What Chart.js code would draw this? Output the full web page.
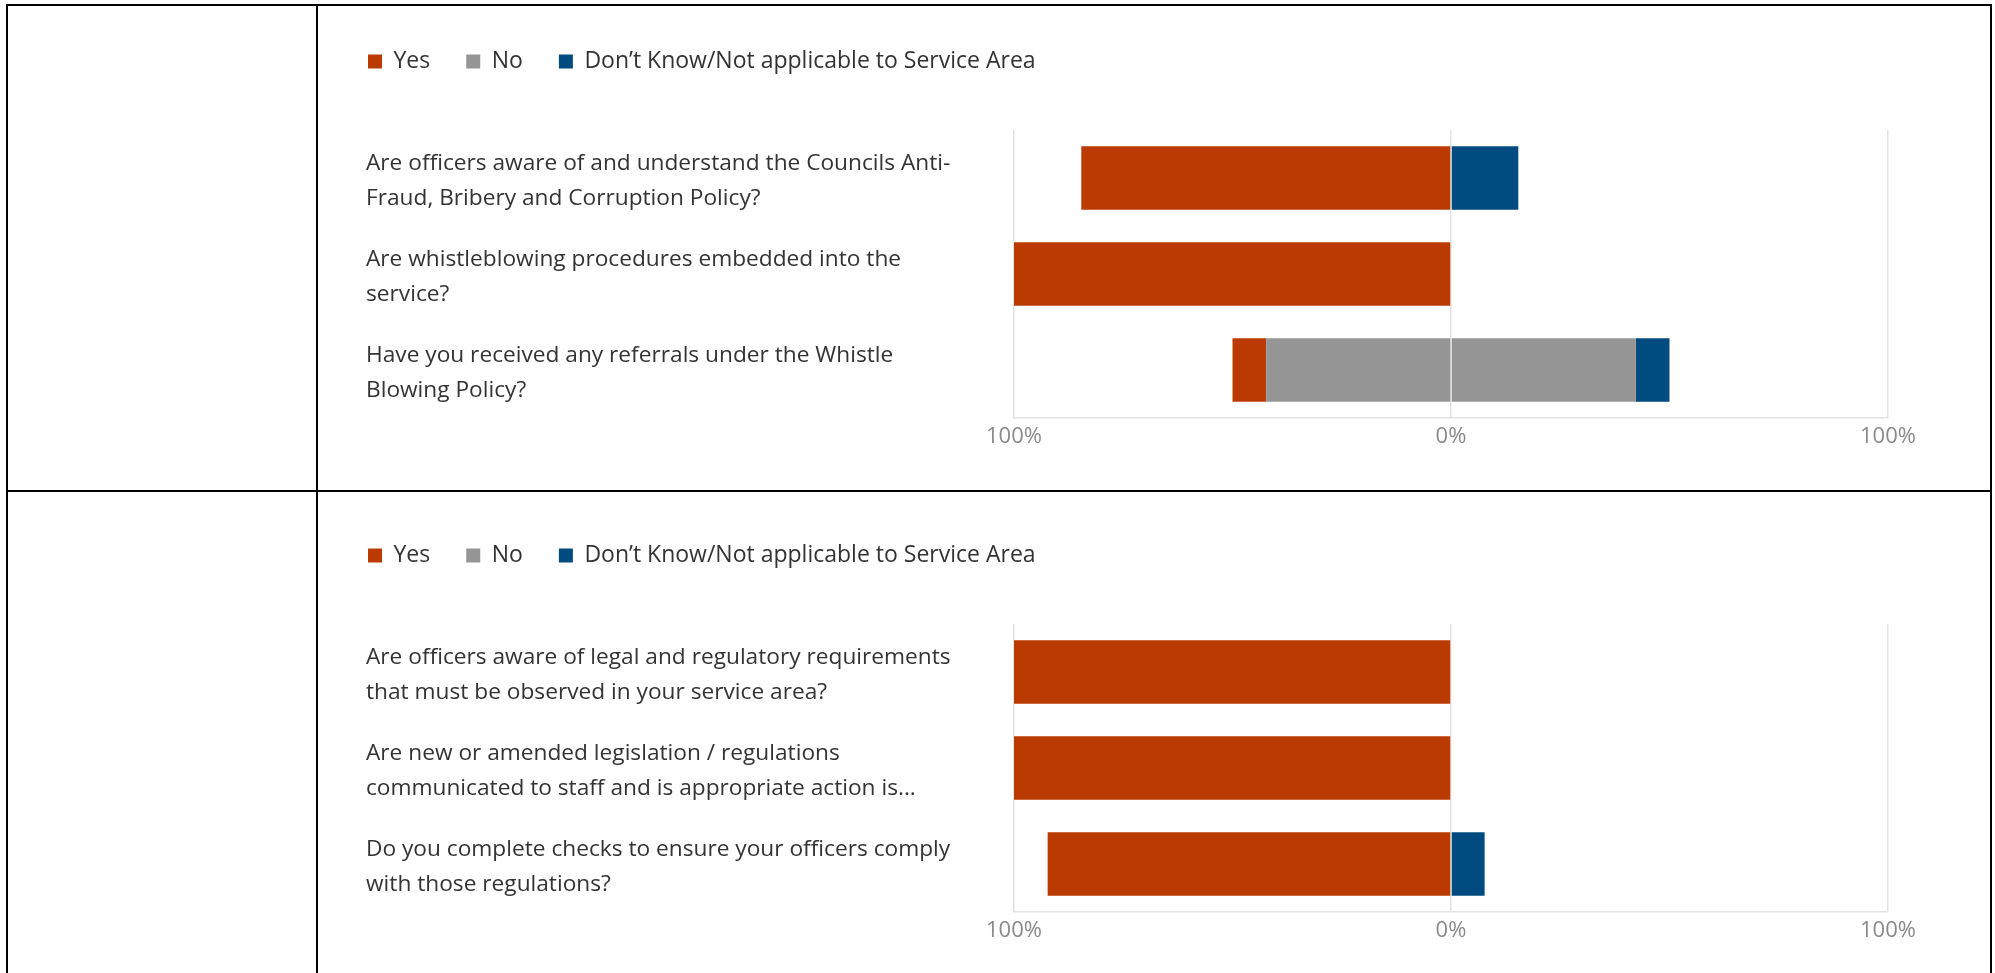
<!DOCTYPE html>
<html>
<head>
<meta charset="utf-8">
<title>Service area questionnaire</title>
<script src="https://cdn.jsdelivr.net/npm/chart.js@4.4.1/dist/chart.umd.min.js"></script>
<style>
  html, body { margin: 0; padding: 0; background: #fff; }
  .page { position: relative; width: 1995px; height: 973px; overflow: hidden; }
  .rule { position: absolute; background: #000; }
  .plot { position: absolute; left: 366px; width: 1562px; height: 448px; }
</style>
</head>
<body>
<div class="page">
  <div class="rule" style="left:6px; top:4px; width:1986px; height:2px;"></div>
  <div class="rule" style="left:6px; top:490px; width:1986px; height:2px;"></div>
  <div class="rule" style="left:6px; top:4px; width:2px; height:969px;"></div>
  <div class="rule" style="left:316px; top:4px; width:2px; height:969px;"></div>
  <div class="rule" style="left:1990px; top:4px; width:2px; height:969px;"></div>

  <div class="plot" style="top:14px;"><canvas id="fraudChart"></canvas></div>
  <div class="plot" style="top:508px;"><canvas id="legalChart"></canvas></div>
</div>

<script>
// Answer shares (% of responses) per question
const fraudQuestions = [
    ['Are officers aware of and understand the Councils Anti-', 'Fraud, Bribery and Corruption Policy?'],
    ['Are whistleblowing procedures embedded into the', 'service?'],
    ['Have you received any referrals under the Whistle', 'Blowing Policy?']
];
const fraudYes = [84.6, 100, 7.7];
const fraudNo = [0, 0, 84.6];
const fraudDontKnow = [15.4, 0, 7.7];

const legalQuestions = [
    ['Are officers aware of legal and regulatory requirements', 'that must be observed in your service area?'],
    ['Are new or amended legislation / regulations', 'communicated to staff and is appropriate action is...'],
    ['Do you complete checks to ensure your officers comply', 'with those regulations?']
];
const legalYes = [100, 100, 92.3];
const legalNo = [0, 0, 0];
const legalDontKnow = [0, 0, 7.7];

const axisTicks = [-100, 0, 100];

const COLOR_YES = '#BA3A02';
const COLOR_NO = '#959595';
const COLOR_DK = '#004B80';
const FONT = "'Open Sans', 'Noto Sans', sans-serif";
const LEGEND_PAD = 36;

// legend sits higher and further left than Chart.js places it by default
const legendTweak = {
    id: 'legendTweak',
    beforeLayout(chart) {
        const legend = chart.legend;
        if (!legend || legend._tweaked) return;
        const fit = legend.fit;
        legend.fit = function () {
            fit.call(this);
            this.height = 116;
        };
        legend._tweaked = true;
    },
    afterLayout(chart) {
        chart.legend.left -= LEGEND_PAD - 2;
    }
};

function buildChart(canvasId, questions, yes, no, dontKnow) {
    // "No" is split around zero, "Yes" goes left and "Don't know" right
    const noLeft = no.map(v => -v / 2);
    const noRight = no.map(v => v / 2);
    const yesLeft = yes.map(v => -v);

    const ctx = document.getElementById(canvasId).getContext('2d');
    new Chart(ctx, {
        type: 'bar',
        data: {
            labels: questions,
            datasets: [
                { label: 'No', data: noLeft, backgroundColor: COLOR_NO },
                { label: 'Yes', data: yesLeft, backgroundColor: COLOR_YES },
                { label: 'No ', data: noRight, backgroundColor: COLOR_NO },
                { label: 'Don\u2019t Know/Not applicable to Service Area', data: dontKnow, backgroundColor: COLOR_DK }
            ]
        },
        options: {
            indexAxis: 'y',
            responsive: true,
            maintainAspectRatio: false,
            animation: false,
            layout: { padding: { left: 0, right: 40, top: 0, bottom: 0 } },
            datasets: {
                bar: { barPercentage: 0.66, categoryPercentage: 1 }
            },
            plugins: {
                tooltip: { enabled: false },
                legend: {
                    position: 'top',
                    align: 'start',
                    labels: {
                        boxWidth: 14,
                        boxHeight: 14,
                        padding: LEGEND_PAD,
                        color: '#333',
                        font: { family: FONT, size: 23 },
                        filter: item => item.text !== 'No ',
                        sort: (a, b) => {
                            const order = { 'Yes': 0, 'No': 1 };
                            return (order[a.text] ?? 2) - (order[b.text] ?? 2);
                        }
                    }
                }
            },
            scales: {
                x: {
                    stacked: true,
                    min: -100,
                    max: 100,
                    z: 1,
                    afterBuildTicks: scale => {
                        scale.ticks = axisTicks.map(v => ({ value: v }));
                    },
                    afterFit: scale => { scale.height = 44; },
                    grid: { color: '#e3e3e3', lineWidth: 1.5, drawTicks: false },
                    border: { display: true, color: '#e3e3e3', width: 1.5 },
                    ticks: {
                        padding: 6,
                        color: '#8a8a8a',
                        font: { family: FONT, size: 22 },
                        callback: value => Math.abs(value) + '%'
                    }
                },
                y: {
                    stacked: true,
                    afterFit: scale => { scale.width = 648; },
                    grid: { display: false },
                    border: { display: false },
                    ticks: {
                        crossAlign: 'far',
                        labelOffset: 3,
                        color: '#333',
                        font: { family: FONT, size: 22.7, lineHeight: 1.58 }
                    }
                }
            }
        },
        plugins: [legendTweak]
    });
}

buildChart('fraudChart', fraudQuestions, fraudYes, fraudNo, fraudDontKnow);
buildChart('legalChart', legalQuestions, legalYes, legalNo, legalDontKnow);
</script>
</body>
</html>
